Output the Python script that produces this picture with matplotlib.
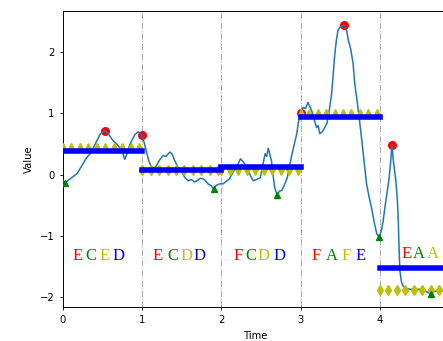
import numpy as np
import matplotlib
matplotlib.use('Agg')
import matplotlib.pyplot as plt

# time series
t = [0.0, 0.03, 0.08, 0.13, 0.18, 0.24, 0.3, 0.35, 0.4, 0.47, 0.53, 0.58, 0.63, 0.68,
     0.71, 0.75, 0.78, 0.81, 0.84, 0.87, 0.91, 0.95, 0.98, 1.0, 1.03, 1.06, 1.09, 1.12,
     1.15, 1.18, 1.22, 1.26, 1.3, 1.35, 1.38, 1.41, 1.45, 1.5, 1.54, 1.58, 1.62, 1.66,
     1.69, 1.73, 1.77, 1.8, 1.83, 1.87, 1.9, 1.94, 1.98, 2.02, 2.06, 2.1, 2.15, 2.2,
     2.24, 2.28, 2.32, 2.36, 2.4, 2.44, 2.49, 2.52, 2.55, 2.57, 2.59, 2.61, 2.63, 2.65,
     2.67, 2.7, 2.73, 2.76, 2.8, 2.83, 2.86, 2.89, 2.93, 2.95, 2.97, 3.0, 3.03, 3.06,
     3.09, 3.12, 3.15, 3.18, 3.2, 3.22, 3.24, 3.27, 3.3, 3.33, 3.36, 3.39, 3.41, 3.43,
     3.45, 3.47, 3.5, 3.55, 3.58, 3.6, 3.63, 3.66, 3.68, 3.71, 3.74, 3.77, 3.8, 3.83,
     3.86, 3.9, 3.93, 3.96, 3.99, 4.02, 4.04, 4.06, 4.08, 4.11, 4.13, 4.15, 4.17, 4.2,
     4.22, 4.23, 4.24, 4.25, 4.27, 4.29, 4.33, 4.38, 4.44, 4.5, 4.56, 4.6, 4.64, 4.68,
     4.72, 4.76, 4.8, 4.85]
v = [-0.1, -0.13, -0.08, -0.03, 0.02, 0.15, 0.28, 0.35, 0.48, 0.66, 0.72, 0.65, 0.56, 0.5,
     0.45, 0.38, 0.25, 0.35, 0.48, 0.56, 0.66, 0.7, 0.66, 0.64, 0.5, 0.34, 0.2, 0.12,
     0.1, 0.15, 0.24, 0.31, 0.3, 0.37, 0.33, 0.23, 0.12, 0.04, -0.05, -0.1, -0.08, -0.12,
     -0.1, -0.06, -0.07, -0.1, -0.15, -0.18, -0.23, -0.17, -0.15, -0.15, -0.11, -0.07, 0.05, 0.15,
     0.26, 0.2, 0.12, 0.0, -0.1, -0.08, -0.05, 0.15, 0.34, 0.3, 0.43, 0.33, 0.23, 0.0,
     -0.2, -0.33, -0.27, -0.26, -0.15, -0.05, 0.15, 0.34, 0.56, 0.67, 0.85, 1.0, 1.1, 1.08,
     1.18, 1.1, 1.0, 0.85, 0.77, 0.8, 0.67, 0.7, 0.76, 0.84, 1.05, 1.33, 1.65, 1.98,
     2.2, 2.36, 2.42, 2.44, 2.35, 2.2, 2.05, 1.82, 1.5, 1.21, 0.9, 0.56, 0.2, -0.15,
     -0.35, -0.59, -0.8, -0.97, -1.02, -0.9, -0.75, -0.55, -0.37, -0.1, 0.15, 0.48, 0.2, -0.1,
     -0.45, -0.75, -1.2, -1.57, -1.75, -1.82, -1.86, -1.87, -1.88, -1.87, -1.9, -1.92, -1.95, -1.91,
     -1.9, -1.9, -1.9, -1.91]

# segments
seg_start = [0, 1, 2, 3, 4]
seg_end = [1, 2, 3, 4, 4.85]
seg_mean = [0.38, 0.08, 0.12, 0.94, -1.52]
mark_level = [0.47, 0.08, 0.04, 1.03, -1.88]
mark_style = ['^', 'd', 'v', '^', 'd']

# letters under each segment (last one runs off the picture)
seg_letters = [['E', 'C', 'E', 'D'], ['E', 'C', 'D', 'D'], ['F', 'C', 'D', 'D'],
               ['F', 'A', 'F', 'E'], ['E', 'A', 'A']]
letter_colors = ['red', 'green', 'y', 'blue']
letter_x = [[0.19, 0.35, 0.52, 0.70], [1.19, 1.39, 1.56, 1.72], [2.21, 2.37, 2.53, 2.73],
            [3.20, 3.39, 3.57, 3.75], [4.34, 4.49, 4.66]]
letter_y = [-1.335, -1.335, -1.335, -1.335, -1.30]

t = np.array(t)
v = np.array(v)

fig = plt.figure(figsize=(4.43, 3.41), dpi=100)
ax = fig.add_axes([0.142, 0.1, 0.868, 0.868])

ax.plot(t, v, color='#1f77b4', lw=1.1, zorder=3)

for i in range(len(seg_start)):
    s, e = seg_start[i], seg_end[i]
    m = (t >= s) & (t <= e)
    ts, vs = t[m], v[m]
    ax.plot(ts[np.argmax(vs)], vs.max(), 'o', color='red', ms=5.5, zorder=2)
    ax.plot(ts[np.argmin(vs)], vs.min(), '^', color='green', ms=5, zorder=5)
    xm = np.linspace(s, s + 0.96, 10)
    ax.plot(xm, [mark_level[i]] * len(xm), mark_style[i], color='y', ms=5, zorder=3)
    ax.plot([s, e], [seg_mean[i], seg_mean[i]], '-', color='blue', lw=4, zorder=4)
    if i > 0:
        ax.axvline(s, color='darkgray', ls='-.', lw=0.7, zorder=1)
    for j in range(len(seg_letters[i])):
        ax.text(letter_x[i][j], letter_y[i], seg_letters[i][j], color=letter_colors[j],
                fontsize=12, family='Liberation Serif', ha='center', va='center')

ax.set_xlim(0, 4.85)
ax.set_ylim(-2.16, 2.675)
ax.set_xticks([0, 1, 2, 3, 4])
ax.set_yticks([-2, -1, 0, 1, 2])
ax.tick_params(labelsize=7.2, length=2.5, width=0.6)
for sp in ax.spines.values():
    sp.set_linewidth(0.7)
ax.set_xlabel('Time', fontsize=7.2, labelpad=4)
ax.set_ylabel('Value', fontsize=7.2, labelpad=4)

fig.savefig('out.png', dpi=100)
